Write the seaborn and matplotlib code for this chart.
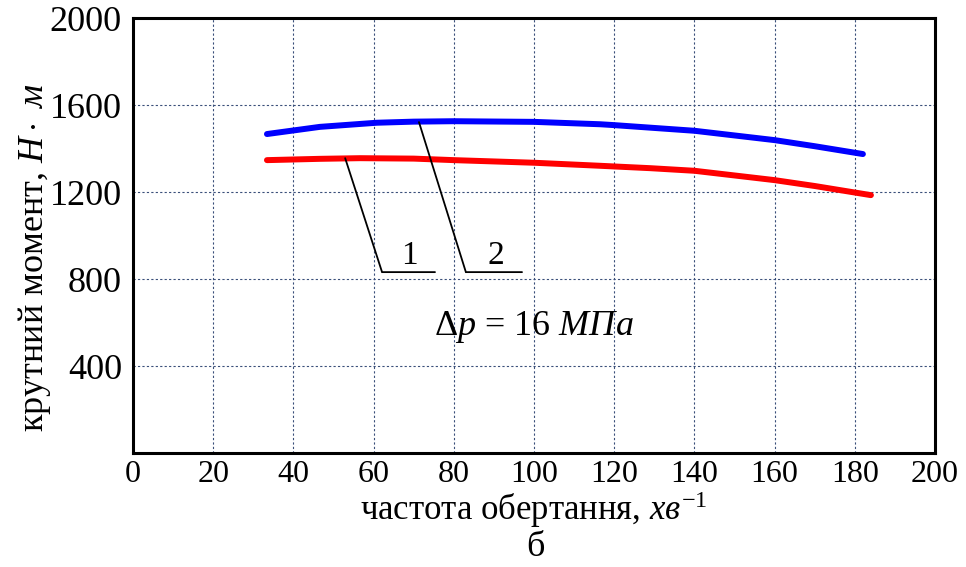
import matplotlib
matplotlib.use("Agg")
import matplotlib.pyplot as plt
import seaborn as sns
import pandas as pd

# Torque vs. rotation speed at a pressure drop of 16 MPa
speed_1 = [33.4, 46.6, 56.6, 70, 80, 100, 116.5, 129, 140, 160, 170, 184]
torque_1 = [1347, 1353, 1356, 1354, 1347, 1335, 1321, 1310, 1298, 1255, 1228, 1186]

speed_2 = [33.4, 46.6, 60.8, 70, 80, 100, 116.5, 120, 140, 160, 170, 182]
torque_2 = [1467, 1500, 1519, 1524, 1526, 1523, 1512, 1508, 1482, 1439, 1411, 1375]

x_ticks = [0, 20, 40, 60, 80, 100, 120, 140, 160, 180, 200]
y_ticks = [400, 800, 1200, 1600, 2000]

df = pd.concat([
    pd.DataFrame({"speed": speed_1, "torque": torque_1, "curve": "1"}),
    pd.DataFrame({"speed": speed_2, "torque": torque_2, "curve": "2"}),
])

sns.set_theme(style="white")
plt.rcParams["font.family"] = ["Liberation Serif", "DejaVu Serif"]
plt.rcParams["mathtext.fontset"] = "custom"
plt.rcParams["mathtext.rm"] = "Liberation Serif"
plt.rcParams["mathtext.it"] = "Liberation Serif:italic"
plt.rcParams["text.color"] = "black"
plt.rcParams["axes.labelcolor"] = "black"
plt.rcParams["xtick.color"] = "black"
plt.rcParams["ytick.color"] = "black"

fig = plt.figure(figsize=(9.66, 5.67), dpi=100)
ax = fig.add_axes([0.1377, 0.201, 0.8303, 0.767])

sns.lineplot(data=df, x="speed", y="torque", hue="curve",
             palette={"1": "#ff0000", "2": "#0000ff"},
             linewidth=4.3, legend=False, ax=ax, sort=True)

ax.set_xlim(0, 200)
ax.set_ylim(0, 2000)
ax.set_xticks(x_ticks)
ax.set_yticks(y_ticks)
ax.set_xticklabels([str(t) for t in x_ticks], fontsize=23)
ax.set_yticklabels([str(t) for t in y_ticks], fontsize=26)
ax.tick_params(axis="both", length=0, colors="black")
ax.tick_params(axis="y", pad=8)
ax.tick_params(axis="x", pad=5)

ax.grid(True, color="#3a4f7a", linestyle=(0, (2, 2)), linewidth=0.8)
ax.set_axisbelow(True)
for s in ax.spines.values():
    s.set_color("black")
    s.set_linewidth(2.2)
    s.set_visible(True)

ax.set_xlabel(r"частота обертання, $\mathit{хв}^{\mathrm{-1}}$", fontsize=25, labelpad=0)
ax.set_ylabel(r"крутний момент, $\mathit{Н}\cdot\ \mathit{м}$", fontsize=26)
ax.yaxis.set_label_coords(-0.1, 0.45)

# leader lines pointing to the curves with their numbers
leaders = [
    ("1", (52.9, 1356), (62.1, 832), (75.3, 832), 69.0),
    ("2", (71.3, 1522), (83.0, 832), (97.0, 832), 90.5),
]
for num, p_curve, p_knee, p_end, x_txt in leaders:
    ax.plot([p_curve[0], p_knee[0], p_end[0]], [p_curve[1], p_knee[1], p_end[1]],
            color="black", linewidth=1.3, solid_joinstyle="miter")
    ax.text(x_txt, 838, num, fontsize=24, ha="center", va="bottom")

ax.text(100, 580, r"$\Delta \mathit{p}$ = 16 $\mathit{МПа}$", fontsize=26,
        ha="center", va="center")

fig.text(0.554, 0.035, "б", fontsize=26, ha="center", va="center")

fig.savefig("out.png", dpi=100)
